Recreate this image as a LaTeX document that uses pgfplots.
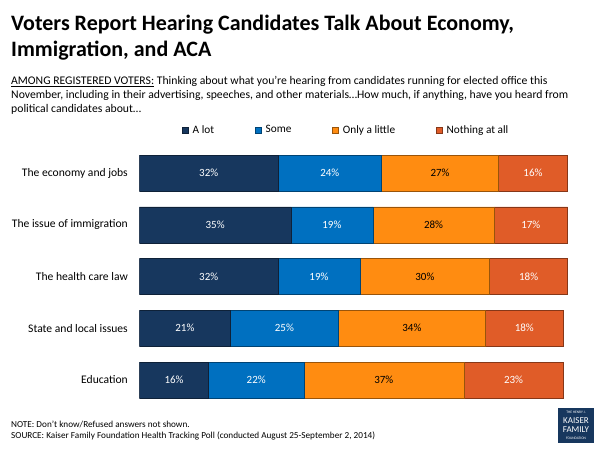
\documentclass[border=0pt]{standalone}
\usepackage{fontspec}
\setmainfont{Carlito}
\usepackage{pgfplots}
\usepackage{pgfplotstable}
\pgfplotsset{compat=1.18}

\definecolor{kffnavy}{RGB}{23,55,94}
\definecolor{kffblue}{RGB}{0,112,192}
\definecolor{kfforange}{RGB}{255,140,17}
\definecolor{kffred}{RGB}{224,92,40}

\pgfplotstableread{
cat alot some little nothing
0 32 24 27 16
1 35 19 28 17
2 32 19 30 18
3 21 25 34 18
4 16 22 37 23
}\heard

\pgfplotsset{
    kffgrid/.style={
        at={(139.5pt,44.125pt)}, anchor=south west,
        scale only axis,
        width=432.4pt, height=258.75pt,
        xmin=0, xmax=100,
        ymin=-0.5, ymax=4.5,
        y dir=reverse,
    },
    seglabel/.style={
        only marks, mark=*, mark size=0pt, mark options={draw=none, fill=none},
        point meta=explicit,
        nodes near coords={\pgfmathprintnumber[assume math mode=true]{\pgfplotspointmeta}\%},
        every node near coord/.append style={anchor=center, text=#1,
            font=\fontsize{11}{12}\selectfont},
    },
}

\begin{document}
\begin{tikzpicture}
\useasboundingbox (0pt,0pt) rectangle (600pt,450pt);
\fill[white] (0pt,0pt) rectangle (600pt,450pt);

% title and question, one node per line
\begin{scope}[every node/.style={anchor=base west, inner sep=0pt}]
\node[font=\fontsize{22}{25.5}\selectfont\bfseries] at (11pt,419pt)
  {Voters Report Hearing Candidates Talk About Economy,};
\node[font=\fontsize{22}{25.5}\selectfont\bfseries] at (11pt,393.5pt)
  {Immigration, and ACA};
\node[font=\fontsize{11.7}{13.9}\selectfont] at (11pt,365pt)
  {\underline{AMONG REGISTERED VOTERS:} Thinking about what you’re hearing from candidates running for elected office this};
\node[font=\fontsize{11.7}{13.9}\selectfont] at (11pt,351pt)
  {November, including in their advertising, speeches, and other materials…How much, if anything, have you heard from};
\node[font=\fontsize{11.7}{13.9}\selectfont] at (11pt,337.2pt)
  {political candidates about…};
\node[font=\fontsize{9.2}{10}\selectfont] at (11pt,23pt)
  {NOTE: Don't know/Refused answers not shown.};
\node[font=\fontsize{9.2}{10}\selectfont] at (11pt,11.5pt)
  {SOURCE: Kaiser Family Foundation Health Tracking Poll (conducted August 25-September 2, 2014)};
\end{scope}

\begin{axis}[
    kffgrid,
    xbar stacked,
    bar width=36pt,
    xtick=\empty,
    ytick={0,1,2,3,4},
    yticklabels={The economy and jobs, The issue of immigration, The health care law, State and local issues, Education},
    yticklabel style={font=\fontsize{11.6}{12}\selectfont, inner sep=0pt, xshift=-11.5pt},
    major tick length=0pt,
    axis line style={draw=none},
    legend columns=4,
    legend style={at={(axis description cs:0.0983,1.0662)}, anchor=west,
        draw=none, fill=none, inner sep=0pt,
        font=\fontsize{11.3}{12}\selectfont,
        nodes={inner sep=0pt},
        /tikz/every odd column/.append style={column sep=4pt},
        /tikz/every even column/.append style={column sep=41pt}},
    legend image code/.code={\draw[#1] (0pt,-3pt) rectangle (6pt,3pt);},
]
\addplot[fill=kffnavy, draw=kffnavy!60!black, line width=0.5pt]
    table[x=alot, y=cat] {\heard};
\addplot[fill=kffblue, draw=kffblue!60!black, line width=0.5pt]
    table[x=some, y=cat] {\heard};
\addplot[fill=kfforange, draw=kfforange!60!black, line width=0.5pt]
    table[x=little, y=cat] {\heard};
\addplot[fill=kffred, draw=kffred!60!black, line width=0.5pt]
    table[x=nothing, y=cat] {\heard};
\legend{A lot, Some, Only a little, Nothing at all}
\end{axis}

% value labels, centred in each segment
\begin{axis}[kffgrid, hide axis]
\addplot[seglabel=white] table[x expr=\thisrow{alot}/2, y=cat, meta=alot] {\heard};
\addplot[seglabel=white] table[x expr=\thisrow{alot}+\thisrow{some}/2, y=cat, meta=some] {\heard};
\addplot[seglabel=black] table[x expr=\thisrow{alot}+\thisrow{some}+\thisrow{little}/2, y=cat, meta=little] {\heard};
\addplot[seglabel=white] table[x expr=\thisrow{alot}+\thisrow{some}+\thisrow{little}+\thisrow{nothing}/2, y=cat, meta=nothing] {\heard};
\end{axis}

% logo
\fill[kffnavy] (558pt,7pt) rectangle (594pt,42pt);
\node[text=white, inner sep=0pt, font=\fontsize{3.6}{4}\selectfont] at (576pt,37.5pt) {THE HENRY J.};
\node[text=white, inner sep=0pt, align=center, font=\fontsize{9}{8.5}\selectfont] at (576pt,25pt) {KAISER\\FAMILY};
\node[text=white, inner sep=0pt, font=\fontsize{3.6}{4}\selectfont] at (576pt,11.5pt) {FOUNDATION};
\end{tikzpicture}
\end{document}
